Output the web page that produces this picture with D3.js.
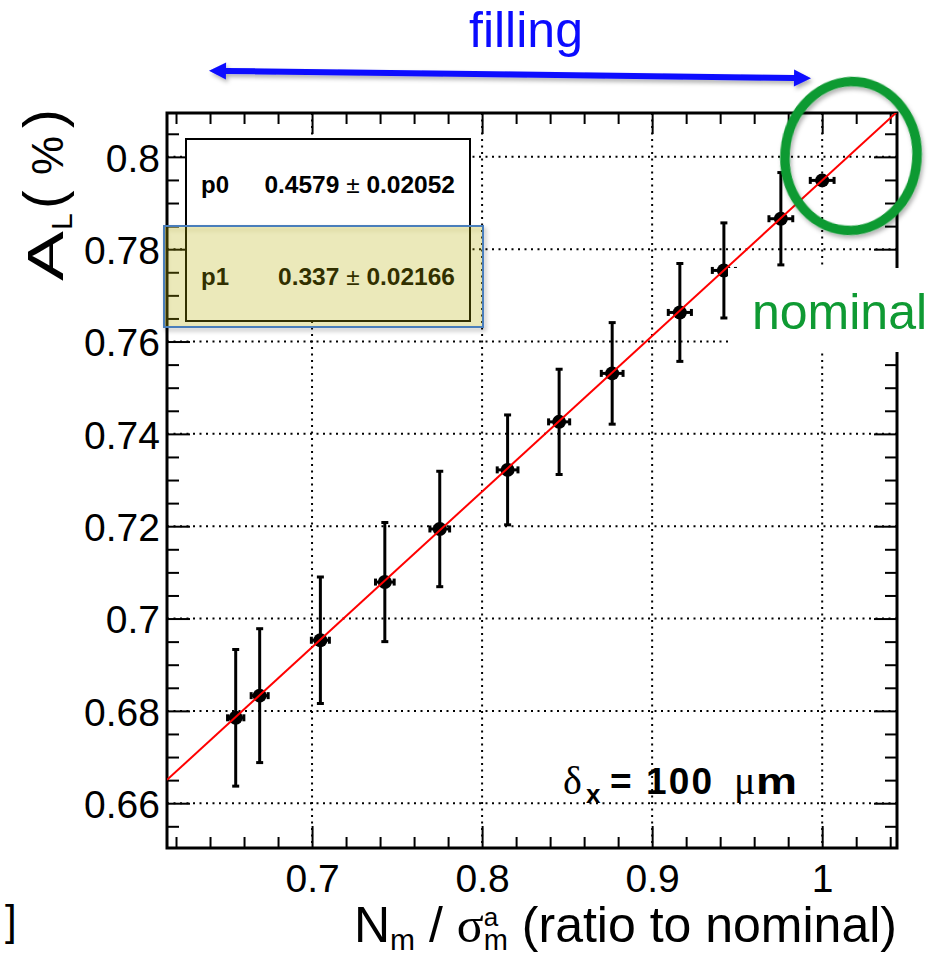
<!DOCTYPE html>
<html><head><meta charset="utf-8">
<script src="https://cdn.jsdelivr.net/npm/d3@7"></script>
<style>body{margin:0;background:#fff} svg{display:block}</style>
</head><body><div id="chart"></div>
<script>
// ---- data ----
const xValues = [0.6551, 0.6692, 0.7049, 0.7428, 0.7751, 0.8150, 0.8453, 0.8765, 0.9163, 0.9422, 0.9757, 1.0];
const yValues = [0.6785, 0.6833, 0.6953, 0.7079, 0.7194, 0.7322, 0.7426, 0.7531, 0.7663, 0.7754, 0.7866, 0.7949];
const xErrors = [0.0048, 0.0050, 0.0053, 0.0055, 0.0058, 0.0061, 0.0062, 0.0064, 0.0068, 0.0068, 0.0070, 0.0070];
const yErrors = [0.0148, 0.0145, 0.0137, 0.0129, 0.0125, 0.0119, 0.0114, 0.0110, 0.0106, 0.0103, 0.0100, 0.0];
const fitCoefs = [0.4579, 0.337];
const fitNames = ["p0", "p1"];
const fitValues = ["0.4579", "0.337"];
const fitErrors = ["0.02052", "0.02166"];
const xTickValues = [0.7, 0.8, 0.9, 1.0];
const yTickValues = [0.66, 0.68, 0.70, 0.72, 0.74, 0.76, 0.78, 0.80];

const W = 949, H = 958;
const FONT = "'Liberation Sans', Arial, Helvetica, sans-serif";
const GREEK = "'Liberation Serif', 'DejaVu Serif', serif";
const GREEN = "#0f9a33", BLUE = "#0b0bff";
const m = {l: 167, r: 897, t: 113, b: 848};

const svg = d3.select("#chart").append("svg").attr("width", W).attr("height", H);
svg.append("rect").attr("width", W).attr("height", H).attr("fill", "#fff");
const defs = svg.append("defs");
defs.append("clipPath").attr("id", "frameClip").append("rect")
  .attr("x", m.l).attr("y", m.t).attr("width", m.r - m.l).attr("height", m.b - m.t);
const f = defs.append("filter").attr("id", "shadow").attr("x", "-20%").attr("y", "-40%").attr("width", "140%").attr("height", "180%");
f.append("feDropShadow").attr("dx", 2).attr("dy", 3).attr("stdDeviation", 2.2).attr("flood-color", "#000").attr("flood-opacity", 0.3);

const x = d3.scaleLinear().domain([0.6147, 1.0440]).range([m.l, m.r]);
const y = d3.scaleLinear().domain([0.6503, 0.8095]).range([m.b, m.t]);
const fmt = d => String(+d.toFixed(2));

// grid
const grid = svg.append("g").attr("stroke", "#000").attr("stroke-width", 2).attr("stroke-dasharray", "2,4.5");
grid.selectAll(".gx").data(xTickValues).join("line").attr("class", "gx")
  .attr("x1", d => x(d)).attr("x2", d => x(d)).attr("y1", m.t).attr("y2", m.b);
grid.selectAll(".gy").data(yTickValues).join("line").attr("class", "gy")
  .attr("y1", d => y(d)).attr("y2", d => y(d)).attr("x1", m.l).attr("x2", m.r);

// axes
const minorX = d3.range(31, 53).filter(i => i % 5 !== 0).map(i => i * 0.02);
const minorY = d3.range(131, 162).filter(i => i % 4 !== 0).map(i => i * 0.005);
function styleAxis(g) {
  g.select(".domain").remove();
  g.attr("font-size", 39).attr("font-family", FONT);
  g.selectAll(".tick line").attr("stroke", "#000").attr("stroke-width", 2);
  g.selectAll(".tick text").attr("fill", "#000");
}
svg.append("g").attr("transform", `translate(0,${m.b})`)
  .call(d3.axisBottom(x).tickValues(xTickValues).tickSizeInner(-22).tickSizeOuter(0).tickPadding(16).tickFormat(fmt)).call(styleAxis);
svg.append("g").attr("transform", `translate(0,${m.b})`)
  .call(d3.axisBottom(x).tickValues(minorX).tickSizeInner(-11).tickSizeOuter(0).tickFormat("")).call(styleAxis);
svg.append("g").attr("transform", `translate(0,${m.t})`)
  .call(d3.axisTop(x).tickValues(xTickValues).tickSizeInner(-21).tickSizeOuter(0).tickFormat("")).call(styleAxis);
svg.append("g").attr("transform", `translate(0,${m.t})`)
  .call(d3.axisTop(x).tickValues(minorX).tickSizeInner(-11).tickSizeOuter(0).tickFormat("")).call(styleAxis);
const yl = svg.append("g").attr("transform", `translate(${m.l},0)`)
  .call(d3.axisLeft(y).tickValues(yTickValues).tickSizeInner(-23).tickSizeOuter(0).tickPadding(7).tickFormat(fmt)).call(styleAxis);
yl.selectAll(".tick text").attr("dy", "0.37em");
svg.append("g").attr("transform", `translate(${m.l},0)`)
  .call(d3.axisLeft(y).tickValues(minorY).tickSizeInner(-12).tickSizeOuter(0).tickFormat("")).call(styleAxis);
svg.append("g").attr("transform", `translate(${m.r},0)`)
  .call(d3.axisRight(y).tickValues(yTickValues).tickSizeInner(-23).tickSizeOuter(0).tickFormat("")).call(styleAxis);
svg.append("g").attr("transform", `translate(${m.r},0)`)
  .call(d3.axisRight(y).tickValues(minorY).tickSizeInner(-12).tickSizeOuter(0).tickFormat("")).call(styleAxis);

svg.append("rect").attr("x", m.l).attr("y", m.t).attr("width", m.r - m.l).attr("height", m.b - m.t)
  .attr("fill", "none").attr("stroke", "#000").attr("stroke-width", 3);

// data points
const pts = xValues.map((v, i) => ({x: v, y: yValues[i], ex: xErrors[i], ey: yErrors[i]}));
const pg = svg.append("g").attr("clip-path", "url(#frameClip)");
const cap = 3.5;
pts.forEach(p => {
  const g = pg.append("g").attr("stroke", "#000").attr("stroke-width", 3);
  if (p.ey > 0) {
    g.append("line").attr("x1", x(p.x)).attr("x2", x(p.x)).attr("y1", y(p.y - p.ey)).attr("y2", y(p.y + p.ey));
    [p.y - p.ey, p.y + p.ey].forEach(v => g.append("line")
      .attr("x1", x(p.x) - cap).attr("x2", x(p.x) + cap).attr("y1", y(v)).attr("y2", y(v)));
  }
  g.append("line").attr("y1", y(p.y)).attr("y2", y(p.y)).attr("x1", x(p.x - p.ex)).attr("x2", x(p.x + p.ex));
  [p.x - p.ex, p.x + p.ex].forEach(v => g.append("line")
    .attr("y1", y(p.y) - cap).attr("y2", y(p.y) + cap).attr("x1", x(v)).attr("x2", x(v)));
});
pg.selectAll("circle").data(pts).join("circle")
  .attr("cx", d => x(d.x)).attr("cy", d => y(d.y)).attr("r", 7).attr("fill", "#000");

// fit line
const fitX = x.domain();
pg.append("line")
  .attr("x1", x(fitX[0])).attr("y1", y(fitCoefs[0] + fitCoefs[1] * fitX[0]))
  .attr("x2", x(fitX[1])).attr("y2", y(fitCoefs[0] + fitCoefs[1] * fitX[1]))
  .attr("stroke", "#ff0000").attr("stroke-width", 2);

// stats box
svg.append("rect").attr("x", 186).attr("y", 139).attr("width", 284).attr("height", 182)
  .attr("fill", "#fff").attr("stroke", "#000").attr("stroke-width", 2);
const rowY = [193, 285];
fitNames.forEach((n, i) => {
  svg.append("text").attr("x", 201).attr("y", rowY[i]).attr("font-family", FONT).attr("font-size", 24)
    .attr("font-weight", "bold").text(n);
  const t = svg.append("text").attr("x", 455).attr("y", rowY[i]).attr("text-anchor", "end")
    .attr("font-family", FONT).attr("font-size", 24.5);
  t.append("tspan").attr("font-weight", "bold").text(fitValues[i] + " ");
  t.append("tspan").text("±");
  t.append("tspan").attr("font-weight", "bold").text(" " + fitErrors[i]);
});
// highlight overlay
svg.append("rect").attr("x", 164).attr("y", 226).attr("width", 319).attr("height", 101)
  .attr("fill", "rgba(200,190,0,0.22)").attr("stroke", "#4a7ebb").attr("stroke-width", 2)
  .attr("filter", "url(#shadow)");

// nominal annotation
svg.append("rect").attr("x", 728).attr("y", 268).attr("width", 221).attr("height", 84).attr("fill", "#fff");
svg.append("text").attr("x", 752).attr("y", 329).attr("font-family", FONT).attr("font-size", 50)
  .attr("fill", GREEN).text("nominal");
svg.append("ellipse").attr("cx", 0).attr("cy", 0).attr("rx", 66).attr("ry", 74.5)
  .attr("transform", "translate(851,156) rotate(5)")
  .attr("fill", "none").attr("stroke", GREEN).attr("stroke-width", 9.5).attr("filter", "url(#shadow)");

// filling arrow
(function () {
  const a = [209, 70.7], b = [811, 78.3];
  const dx = b[0] - a[0], dy = b[1] - a[1], L = Math.hypot(dx, dy);
  const ux = dx / L, uy = dy / L, nx = -uy, ny = ux;
  const hl = 17, hw = 8.5, sw = 3;
  const p = (pt, s, n) => [pt[0] + ux * s + nx * n, pt[1] + uy * s + ny * n];
  const pts = [
    a, p(a, hl, hw), p(a, hl, sw), p(b, -hl, sw), p(b, -hl, hw), b,
    p(b, -hl, -hw), p(b, -hl, -sw), p(a, hl, -sw), p(a, hl, -hw)
  ];
  svg.append("path").attr("d", "M" + pts.map(q => q.join(",")).join("L") + "Z")
    .attr("fill", BLUE).attr("filter", "url(#shadow)");
})();
svg.append("text").attr("x", 526).attr("y", 47).attr("text-anchor", "middle")
  .attr("font-family", FONT).attr("font-size", 50).attr("fill", BLUE).text("filling");

// delta label
(function () {
  const g = svg.append("g").attr("font-family", FONT);
  g.append("text").attr("x", 563).attr("y", 794).attr("font-family", GREEK).attr("font-size", 40).text("δ");
  g.append("text").attr("x", 586).attr("y", 803).attr("font-weight", "bold").attr("font-size", 26).text("x");
  g.append("text").attr("x", 610).attr("y", 794).attr("font-weight", "bold").attr("font-size", 37)
    .attr("textLength", 102).attr("lengthAdjust", "spacing").text("= 100");
  g.append("text").attr("x", 734).attr("y", 794).attr("font-family", GREEK).attr("font-size", 40).text("μ");
  g.append("text").attr("x", 756).attr("y", 794).attr("font-weight", "bold").attr("font-size", 37)
    .attr("textLength", 41).attr("lengthAdjust", "spacingAndGlyphs").text("m");
})();

// x title
(function () {
  const t = svg.append("text").attr("x", 897).attr("y", 942).attr("text-anchor", "end")
    .attr("font-family", FONT).attr("font-size", 50);
  t.append("tspan").text("N");
  t.append("tspan").attr("font-size", 30).attr("dy", 8).text("m");
  t.append("tspan").attr("dy", -8).text(" / ");
  t.append("tspan").attr("font-family", GREEK).text("σ");
  t.append("tspan").attr("font-size", 29).attr("dy", 8).text("m");
  t.append("tspan").attr("font-size", 26).attr("dy", -24).attr("dx", -24.2).text("a");
  t.append("tspan").attr("dy", 16).attr("dx", 9.8).text(" (ratio to nominal)");
})();

// y title (rotated pieces)
function rot(txt, px, py, size, extra) {
  const t = svg.append("text").attr("transform", `translate(${px},${py}) rotate(-90)`)
    .attr("font-family", FONT).attr("font-size", size).text(txt);
  if (extra) extra(t);
  return t;
}
rot("A", 63, 281, 50, t => t.attr("textLength", 50).attr("lengthAdjust", "spacingAndGlyphs"));
rot("L", 72, 230, 30);
rot("(", 62, 209, 56);
rot("%", 63, 175, 44);
rot(")", 62, 128, 56);

// stray bracket
svg.append("text").attr("x", 5).attr("y", 934.5).attr("font-family", FONT).attr("font-size", 42).text("]");
</script></body></html>
